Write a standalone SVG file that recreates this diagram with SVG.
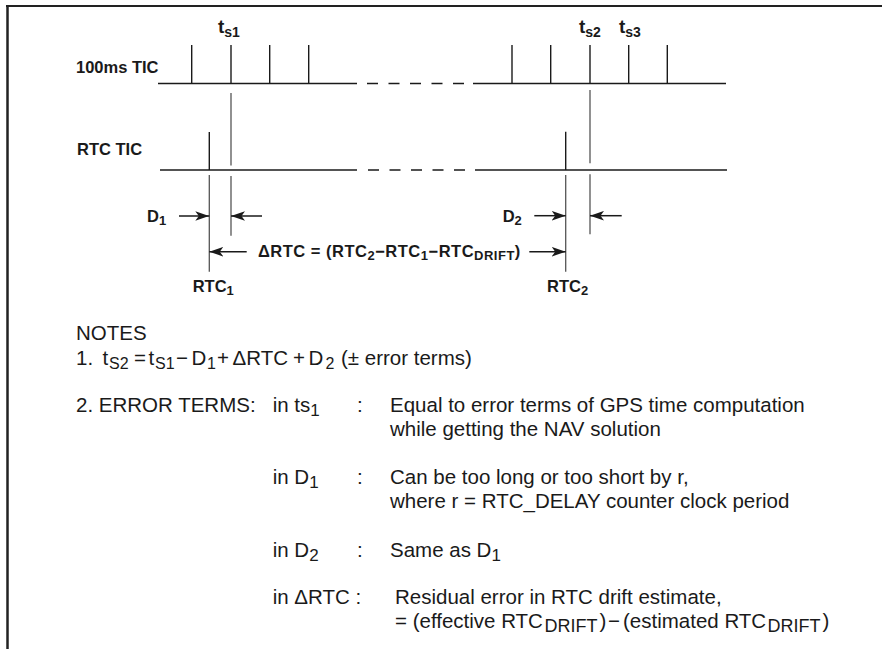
<svg xmlns="http://www.w3.org/2000/svg" width="882" height="649" viewBox="0 0 882 649">
<defs>
<marker id="ah" viewBox="0 -5 14 10" refX="14" refY="0" markerWidth="14" markerHeight="10" markerUnits="userSpaceOnUse" orient="auto">
<path d="M0,-4.8 L14,0 L0,4.8 L3.5,0 Z" fill="#1a1a1a"/>
</marker>
</defs>
<style>
.frame{stroke:#222;fill:none}
.base{stroke:#1a1a1a;stroke-width:1.6;fill:none}
.dash{stroke:#1a1a1a;stroke-width:1.6;stroke-dasharray:11 10.5;fill:none}
.tick{stroke:#1a1a1a;stroke-width:1.4}
.ref{stroke:#555;stroke-width:1.3}
.arr{stroke:#1a1a1a;stroke-width:1.5;fill:none;marker-end:url(#ah)}
.lb{font-family:"Liberation Sans",Arial,sans-serif;font-weight:bold;font-size:16.5px;fill:#1a1a1a}
.lt{font-family:"Liberation Sans",Arial,sans-serif;font-weight:bold;font-size:19px;fill:#1a1a1a}
.nt{font-family:"Liberation Sans",Arial,sans-serif;font-size:20.5px;fill:#1a1a1a}
.s13{font-size:13px}
.s14{font-size:14px}
.s16{font-size:16px}
.s17{font-size:17px}
.s18{font-size:18px}
</style>
<g id="frame">
<line class="frame" x1="6" y1="6" x2="882" y2="6" stroke-width="2"/>
<line class="frame" x1="7.5" y1="5" x2="7.5" y2="649" stroke-width="2.5"/>
</g>
<g id="tic100">
<line class="base" x1="158" y1="83.5" x2="357" y2="83.5"/>
<line class="dash" x1="367" y1="83.5" x2="464" y2="83.5"/>
<line class="base" x1="473" y1="83.5" x2="726" y2="83.5"/>
<line class="tick" x1="191.7" y1="45" x2="191.7" y2="83.5" stroke-width="1.8"/>
<line class="tick" x1="231" y1="45" x2="231" y2="83.5"/>
<line class="tick" x1="269.7" y1="45" x2="269.7" y2="83.5"/>
<line class="tick" x1="308.7" y1="45" x2="308.7" y2="83.5"/>
<line class="tick" x1="512" y1="45" x2="512" y2="83.5"/>
<line class="tick" x1="550.7" y1="45" x2="550.7" y2="83.5"/>
<line class="tick" x1="590" y1="45" x2="590" y2="83.5"/>
<line class="tick" x1="628.7" y1="45" x2="628.7" y2="83.5"/>
<line class="tick" x1="667.3" y1="45" x2="667.3" y2="83.5"/>
<text class="lb" x="76" y="72.5">100ms TIC</text>
</g>
<g id="rtctic">
<line class="base" x1="160" y1="170" x2="357" y2="170"/>
<line class="dash" x1="368" y1="170" x2="465" y2="170"/>
<line class="base" x1="475" y1="170" x2="727" y2="170"/>
<line class="tick" x1="209.3" y1="132" x2="209.3" y2="170"/>
<line class="tick" x1="565.7" y1="131.7" x2="565.7" y2="170"/>
<text class="lb" x="77" y="155">RTC TIC</text>
</g>
<g id="references">
<line class="ref" x1="231" y1="93" x2="231" y2="165.5"/>
<line class="ref" x1="231" y1="176" x2="231" y2="235.7"/>
<line class="ref" x1="209.3" y1="175" x2="209.3" y2="271.7"/>
<line class="ref" x1="590" y1="90" x2="590" y2="163.3"/>
<line class="ref" x1="590" y1="174.3" x2="590" y2="234.3"/>
<line class="ref" x1="565.7" y1="175" x2="565.7" y2="271.7"/>
</g>
<g id="connectors">
<line class="arr" x1="179" y1="216" x2="209.3" y2="216"/>
<line class="arr" x1="262" y1="216" x2="231" y2="216"/>
<line class="arr" x1="534.3" y1="215.7" x2="565.7" y2="215.7"/>
<line class="arr" x1="621.7" y1="215.7" x2="590" y2="215.7"/>
<line class="arr" x1="246.7" y1="251.7" x2="209.3" y2="251.7"/>
<line class="arr" x1="529.3" y1="251.7" x2="565.7" y2="251.7"/>
</g>
<g id="labels">
<text class="lt" x="218" y="33">t<tspan class="s14" dy="4">s1</tspan></text>
<text class="lt" x="579" y="33">t<tspan class="s14" dy="4">s2</tspan></text>
<text class="lt" x="619" y="33">t<tspan class="s14" dy="4">s3</tspan></text>
<text class="lb" x="147" y="222">D<tspan class="s13" dy="3">1</tspan></text>
<text class="lb" x="502.7" y="221.7">D<tspan class="s13" dy="3">2</tspan></text>
<text class="lb" x="258" y="257" letter-spacing="0.5">ΔRTC = (RTC<tspan class="s13" dy="3">2</tspan><tspan dy="-3">−RTC</tspan><tspan class="s13" dy="3">1</tspan><tspan dy="-3">−RTC</tspan><tspan class="s13" dy="3">DRIFT</tspan><tspan dy="-3">)</tspan></text>
<text class="lb" x="192.7" y="292">RTC<tspan class="s13" dy="3">1</tspan></text>
<text class="lb" x="547" y="292">RTC<tspan class="s13" dy="3">2</tspan></text>
</g>
<g id="notes">
<text class="nt" x="76" y="340">NOTES</text>
<text class="nt" y="365"><tspan x="76">1.</tspan><tspan x="102.5">t</tspan><tspan class="s16" x="109" dy="4">S2</tspan><tspan x="134" dy="-4">=</tspan><tspan x="148.5">t</tspan><tspan class="s16" x="155" dy="4">S1</tspan><tspan x="176" dy="-4">−</tspan><tspan x="191.5">D</tspan><tspan class="s16" x="207" dy="4">1</tspan><tspan x="217" dy="-4">+</tspan><tspan x="232.5">ΔRTC</tspan><tspan x="293">+</tspan><tspan x="308.5">D</tspan><tspan class="s16" x="325.5" dy="4">2</tspan><tspan x="341" dy="-4">(± error terms)</tspan></text>
<text class="nt" x="76" y="411.7">2. ERROR TERMS:</text>
<text class="nt" x="272.7" y="411.7">in ts<tspan class="s17" dy="4">1</tspan></text>
<text class="nt" x="357" y="411.7">:</text>
<text class="nt" x="390" y="411.7">Equal to error terms of GPS time computation</text>
<text class="nt" x="390" y="435.7">while getting the NAV solution</text>
<text class="nt" x="272.7" y="484">in D<tspan class="s17" dy="4">1</tspan></text>
<text class="nt" x="357" y="484">:</text>
<text class="nt" x="390" y="484">Can be too long or too short by r,</text>
<text class="nt" x="390" y="508">where r = RTC_DELAY counter clock period</text>
<text class="nt" x="272.7" y="556.7">in D<tspan class="s17" dy="4">2</tspan></text>
<text class="nt" x="357" y="556.7">:</text>
<text class="nt" x="390" y="556.7">Same as D<tspan class="s17" dy="4">1</tspan></text>
<text class="nt" x="272.7" y="604">in ΔRTC :</text>
<text class="nt" x="395" y="604">Residual error in RTC drift estimate,</text>
<text class="nt" y="628"><tspan x="395">= (effective RTC</tspan><tspan class="s18" x="544.5" dy="4">DRIFT</tspan><tspan x="599.5" dy="-4">)</tspan><tspan x="608">−</tspan><tspan x="623">(estimated RTC</tspan><tspan class="s18" x="767.5" dy="4">DRIFT</tspan><tspan x="822.5" dy="-4">)</tspan></text>
</g>
</svg>
